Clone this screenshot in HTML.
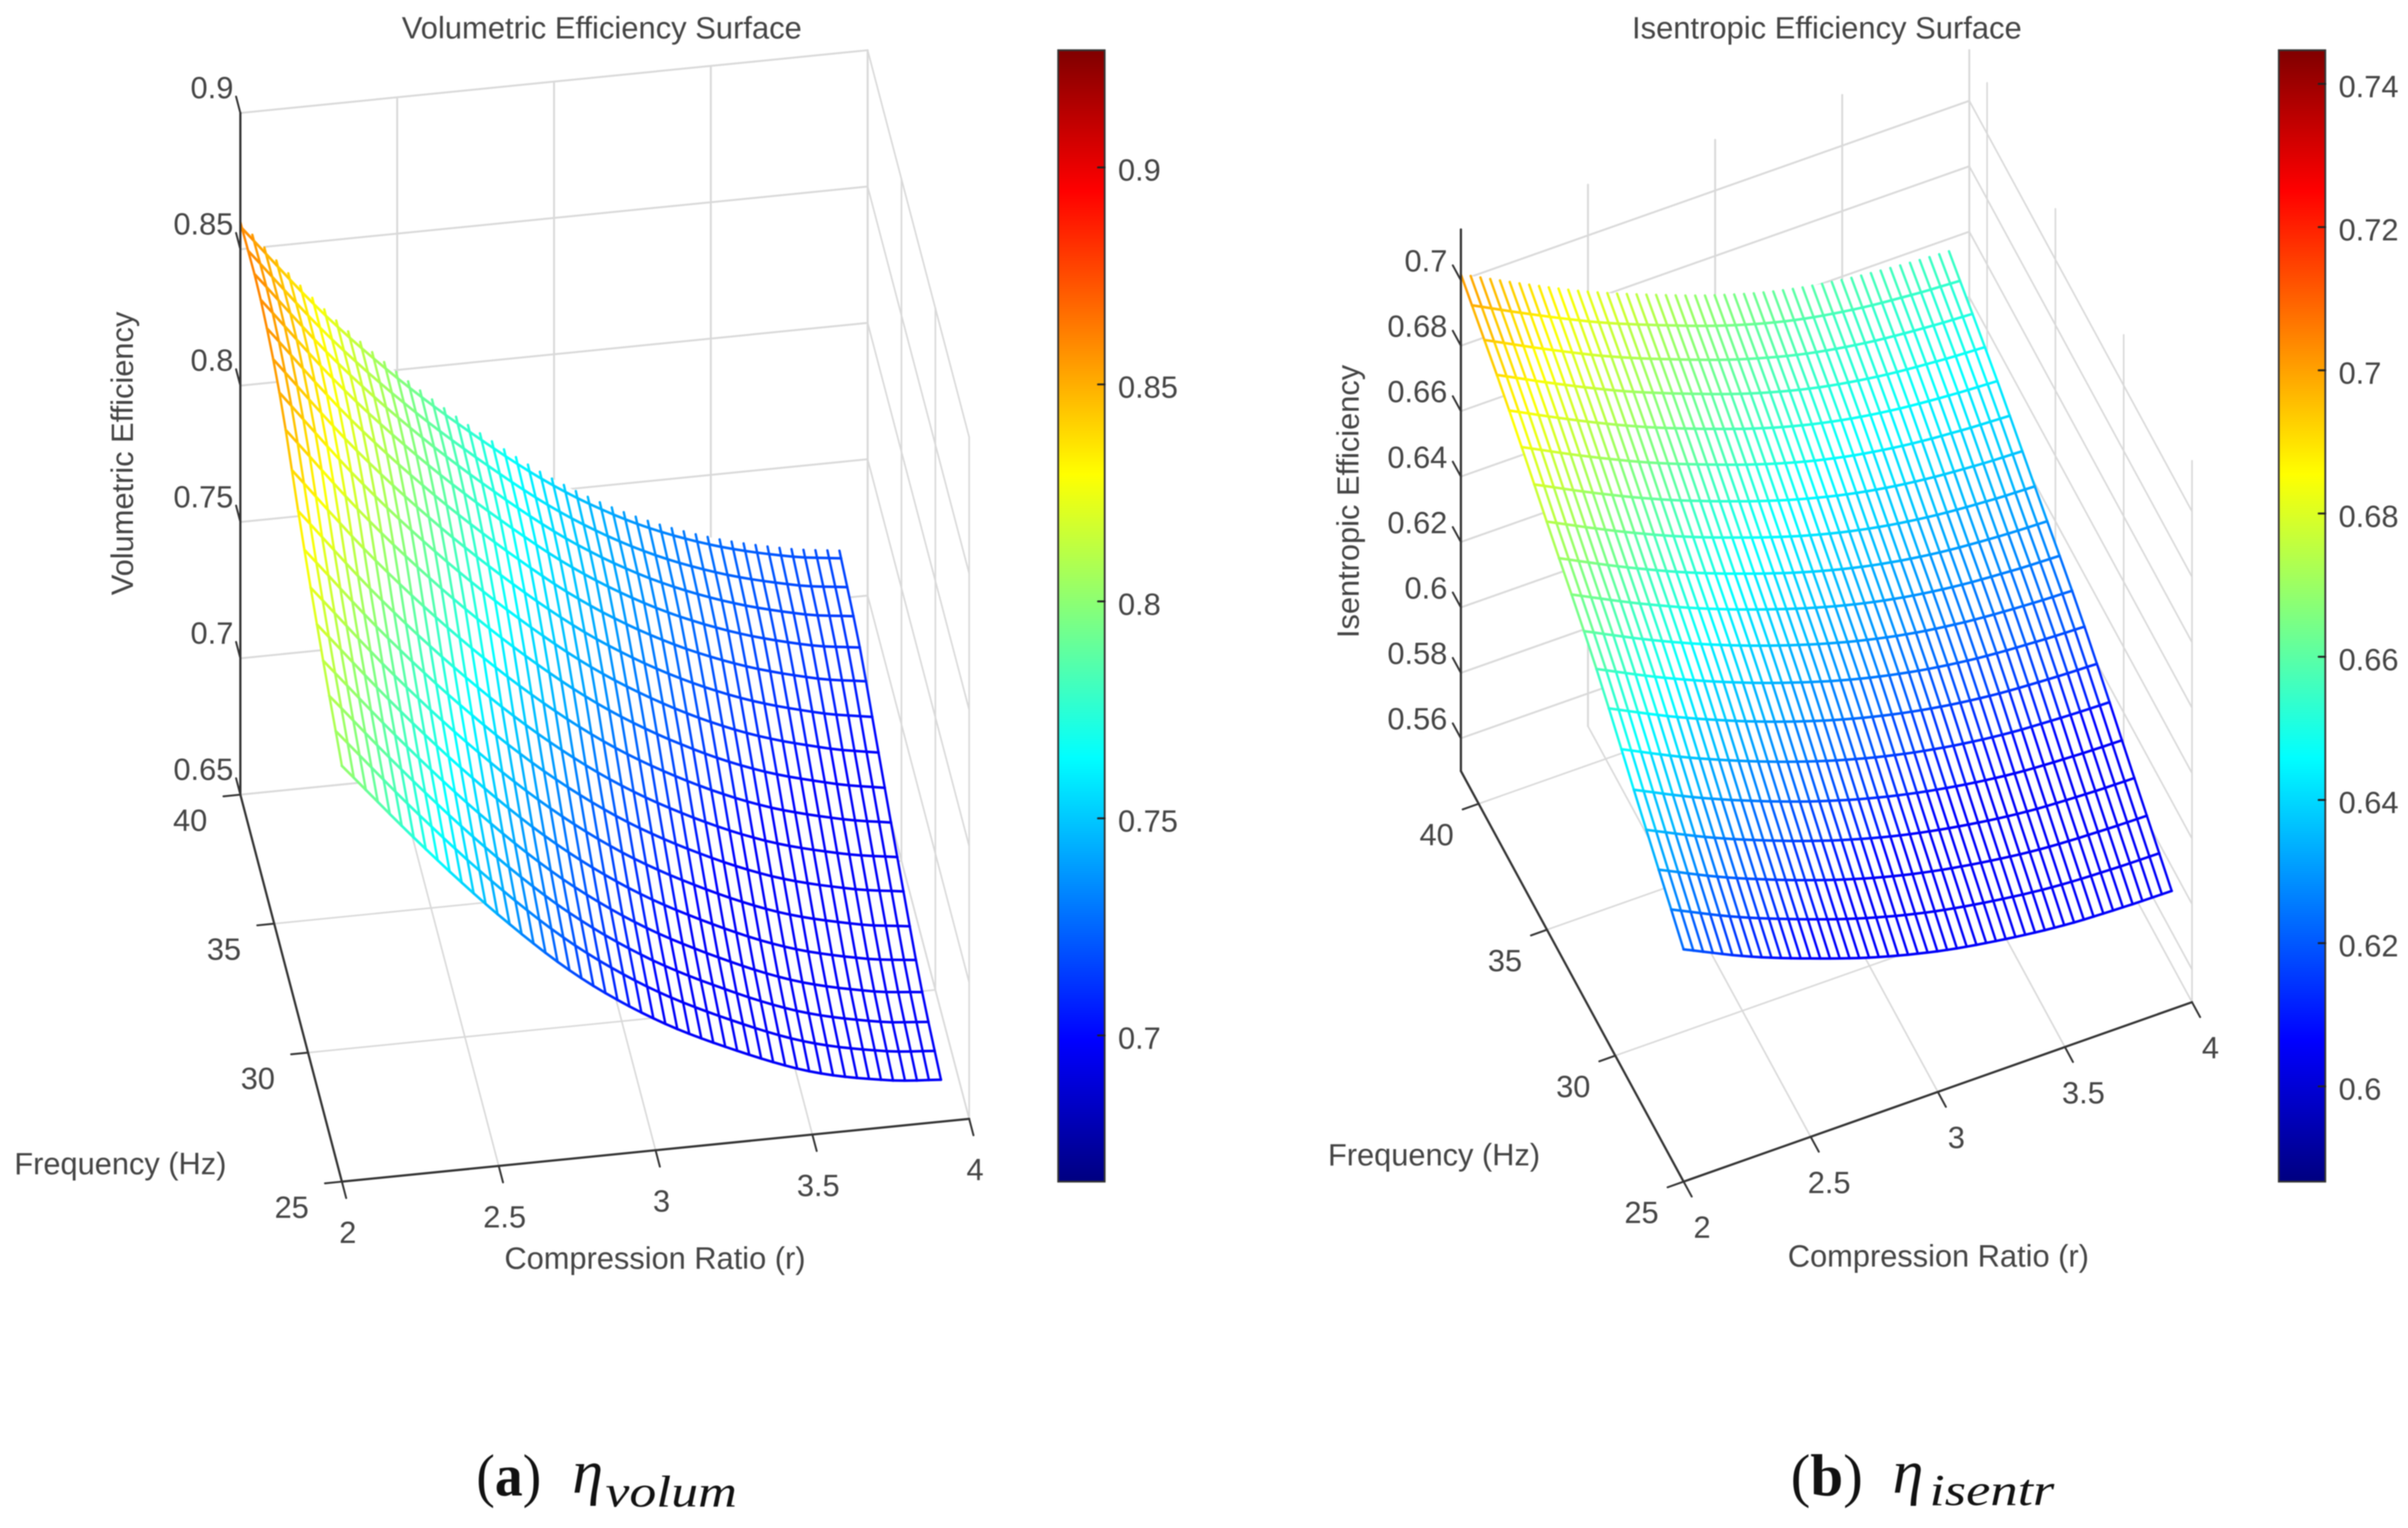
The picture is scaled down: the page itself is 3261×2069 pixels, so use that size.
<!DOCTYPE html>
<html lang="en">
<head>
<meta charset="utf-8">
<title>Volumetric and Isentropic Efficiency Surfaces</title>
<style>
html,body{margin:0;padding:0;background:#fff;width:3261px;height:2069px;overflow:hidden}
svg{display:block;filter:blur(.7px)}
text{font-family:"Liberation Sans",Arial,sans-serif;font-size:41.7px;fill:#444}
.cap{font-family:"Liberation Serif","DejaVu Serif",serif;fill:#111}
</style>
</head>
<body>
<svg id="figure" xmlns="http://www.w3.org/2000/svg" width="3261" height="2069" viewBox="0 0 3261 2069">
  <defs>
    <linearGradient id="jet-gradient" x1="0" y1="1" x2="0" y2="0">
      <stop offset="0" stop-color="#000080"/>
      <stop offset=".125" stop-color="#0000ff"/>
      <stop offset=".375" stop-color="#00ffff"/>
      <stop offset=".625" stop-color="#ffff00"/>
      <stop offset=".875" stop-color="#ff0000"/>
      <stop offset="1" stop-color="#800000"/>
    </linearGradient>
  </defs>
  <rect width="3261" height="2069" fill="#fff"/>
  <g id="chart-a">
    <text x="815" y="52" text-anchor="middle" style="font-size:41.9px">Volumetric Efficiency Surface</text>
    <text x="887" y="1718" text-anchor="middle">Compression Ratio (r)</text>
    <text x="163" y="1590" text-anchor="middle">Frequency (Hz)</text>
    <text transform="translate(180 614) rotate(-90)" text-anchor="middle">Volumetric Efficiency</text>
  </g>
  <g id="chart-b">
    <text x="2474" y="52" text-anchor="middle" style="font-size:41.9px">Isentropic Efficiency Surface</text>
    <text x="2625" y="1715" text-anchor="middle">Compression Ratio (r)</text>
    <text x="1942" y="1578" text-anchor="middle">Frequency (Hz)</text>
    <text transform="translate(1840 679) rotate(-90)" text-anchor="middle">Isentropic Efficiency</text>
  </g>
  <g>
    <text class="cap" x="645" y="2025" style="font-size:80px" textLength="88" lengthAdjust="spacingAndGlyphs">(<tspan font-weight="bold">a</tspan>)</text>
    <text class="cap" x="775" y="2021" style="font-size:84px;font-style:italic">η</text>
    <text class="cap" x="820" y="2040" style="font-size:60px;font-style:italic" textLength="178" lengthAdjust="spacingAndGlyphs">volum</text>
  </g>
  <g>
    <text class="cap" x="2425" y="2025" style="font-size:80px">(<tspan font-weight="bold">b</tspan>)</text>
    <text class="cap" x="2563" y="2021" style="font-size:84px;font-style:italic">η</text>
    <text class="cap" x="2613" y="2038" style="font-size:60px;font-style:italic" textLength="169" lengthAdjust="spacingAndGlyphs">isentr</text>
  </g>
</svg>
<script>
// ---- Values ----
const rTicks = [2, 2.5, 3, 3.5, 4];
const rTickLabels = ['2', '2.5', '3', '3.5', '4'];
const fTicks = [25, 30, 35, 40];
const fTickLabels = ['25', '30', '35', '40'];

// Volumetric efficiency surface: z read at these r / f stations
const volumetricRStations = [2, 2.25, 2.5, 2.75, 3, 3.25, 3.5, 3.75, 3.91];
const volumetricFStations = [25, 28, 31, 34, 37, 40];
const volumetricZAtF25 = [0.8025, 0.771, 0.742, 0.717, 0.698, 0.684, 0.673, 0.667, 0.6654];
const volumetricZAtF28 = [0.816, 0.7834, 0.7538, 0.7282, 0.708, 0.6929, 0.6811, 0.6742, 0.672];
const volumetricZAtF31 = [0.832, 0.7984, 0.7688, 0.7431, 0.7221, 0.7062, 0.6942, 0.6868, 0.684];
const volumetricZAtF34 = [0.851, 0.8165, 0.7866, 0.7606, 0.7384, 0.7213, 0.7086, 0.7004, 0.697];
const volumetricZAtF37 = [0.86, 0.8259, 0.7969, 0.7718, 0.7499, 0.7331, 0.7211, 0.7132, 0.7105];
const volumetricZAtF40 = [0.86, 0.827, 0.799, 0.775, 0.754, 0.738, 0.727, 0.72, 0.7175];
const volumetricMeshF = [25, 25.92, 26.85, 27.77, 28.69, 29.61, 30.54, 31.46, 32.38, 33.3, 34.23, 35.15, 36.07, 36.99, 37.92, 38.84, 39.76];
const volumetricZTicks = [0.65, 0.7, 0.75, 0.8, 0.85, 0.9];
const volumetricZTickLabels = ['0.65', '0.7', '0.75', '0.8', '0.85', '0.9'];
const volumetricBarTicks = [0.7, 0.75, 0.8, 0.85, 0.9];
const volumetricBarLabels = ['0.7', '0.75', '0.8', '0.85', '0.9'];

// Isentropic efficiency surface: z read at these r / f stations
const isentropicRStations = [2, 2.25, 2.5, 2.75, 3, 3.25, 3.5, 3.75, 3.92];
const isentropicFStations = [25, 28.2, 31.5, 34.7, 38, 41.3];
const isentropicZAtF25 = [0.621, 0.612, 0.6045, 0.598, 0.593, 0.5896, 0.5873, 0.5864, 0.5862];
const isentropicZAtF28 = [0.6392, 0.63, 0.6221, 0.6153, 0.6099, 0.606, 0.6034, 0.6023, 0.602];
const isentropicZAtF31 = [0.6582, 0.6488, 0.6405, 0.6334, 0.6275, 0.6231, 0.6203, 0.6189, 0.6184];
const isentropicZAtF35 = [0.6731, 0.6636, 0.655, 0.6477, 0.6414, 0.6366, 0.6335, 0.6319, 0.6314];
const isentropicZAtF38 = [0.6885, 0.6788, 0.6699, 0.6623, 0.6556, 0.6505, 0.6472, 0.6454, 0.6447];
const isentropicZAtF41 = [0.7018, 0.692, 0.6828, 0.675, 0.668, 0.6625, 0.659, 0.657, 0.6562];
const isentropicMeshF = [25, 25.91, 26.82, 27.73, 28.64, 29.55, 30.47, 31.38, 32.29, 33.2, 34.11, 35.02, 35.93, 36.85, 37.76, 38.67, 39.58, 40.49];
const isentropicZTicks = [0.56, 0.58, 0.6, 0.62, 0.64, 0.66, 0.68, 0.7];
const isentropicZTickLabels = ['0.56', '0.58', '0.6', '0.62', '0.64', '0.66', '0.68', '0.7'];
const isentropicBarTicks = [0.6, 0.62, 0.64, 0.66, 0.68, 0.7, 0.72, 0.74];
const isentropicBarLabels = ['0.6', '0.62', '0.64', '0.66', '0.68', '0.7', '0.72', '0.74'];

const meshColumnCount = 51;

// ---- Chart geometry (orthographic 3-D axes) ----
const volumetricChart = {
  root: 'chart-a', prefix: 'volumetric',
  rStations: volumetricRStations, fStations: volumetricFStations,
  zRows: [volumetricZAtF25, volumetricZAtF28, volumetricZAtF31, volumetricZAtF34, volumetricZAtF37, volumetricZAtF40],
  meshF: volumetricMeshF, zTicks: volumetricZTicks, zLabels: volumetricZTickLabels,
  barTicks: volumetricBarTicks, barLabels: volumetricBarLabels,
  rLim: [2, 4], fLim: [25, 40], zLim: [0.65, 0.9],
  origin: [463, 1600], rVec: [849.5, -85], fVec: [-137.5, -524], zPerUnit: 3692,
  rLabelOffset: [8, 83], fLabelOffset: [-68, 49], zLabelX: 316, zLabelDy: -20,
  bar: { x: 1433, w: 63, top: 68, bottom: 1600, min: 0.6663, max: 0.927 }
};
const isentropicChart = {
  root: 'chart-b', prefix: 'isentropic',
  rStations: isentropicRStations, fStations: isentropicFStations,
  zRows: [isentropicZAtF25, isentropicZAtF28, isentropicZAtF31, isentropicZAtF35, isentropicZAtF38, isentropicZAtF41],
  meshF: isentropicMeshF, zTicks: isentropicZTicks, zLabels: isentropicZTickLabels,
  barTicks: isentropicBarTicks, barLabels: isentropicBarLabels,
  rLim: [2, 4], fLim: [25, 41.3], zLim: [0.55, 0.7155],
  origin: [2280, 1600], rVec: [688.5, -243], fVec: [-301.6, -556], zPerUnit: 4430,
  rLabelOffset: [25, 76], fLabelOffset: [-57, 56], zLabelX: 1960, zLabelDy: -12,
  bar: { x: 3086, w: 63, top: 68, bottom: 1600, min: 0.5867, max: 0.7447 }
};

// ---- Axis functions ----
function project(c, r, f, z) {
  const u = (r - c.rLim[0]) / (c.rLim[1] - c.rLim[0]);
  const v = (f - c.fLim[0]) / (c.fLim[1] - c.fLim[0]);
  return [
    c.origin[0] + u * c.rVec[0] + v * c.fVec[0],
    c.origin[1] + u * c.rVec[1] + v * c.fVec[1] - (z - c.zLim[0]) * c.zPerUnit
  ];
}
function barY(c, v) {
  const b = c.bar;
  return b.bottom - (v - b.min) / (b.max - b.min) * (b.bottom - b.top);
}
function clamp01(v) { return Math.max(0, Math.min(1, v)); }
function jetColor(c, z) {
  const t = Math.max(0.118, (z - c.bar.min) / (c.bar.max - c.bar.min));
  const r = clamp01(1.5 - Math.abs(4 * t - 3));
  const g = clamp01(1.5 - Math.abs(4 * t - 2));
  const b = clamp01(1.5 - Math.abs(4 * t - 1));
  return 'rgb(' + Math.round(r * 255) + ',' + Math.round(g * 255) + ',' + Math.round(b * 255) + ')';
}
// Smooth curve through the read stations, used to draw the fine mesh
function smooth(xs, ys, x) {
  const n = xs.length;
  let i = 0;
  while (i < n - 2 && x > xs[i + 1]) i++;
  const h = xs[i + 1] - xs[i];
  const s = (x - xs[i]) / h;
  const slope = function (k) {
    if (k === 0) return (ys[1] - ys[0]) / (xs[1] - xs[0]);
    if (k === n - 1) return (ys[n - 1] - ys[n - 2]) / (xs[n - 1] - xs[n - 2]);
    return (ys[k + 1] - ys[k - 1]) / (xs[k + 1] - xs[k - 1]);
  };
  const a = 2 * s * s * s - 3 * s * s + 1;
  const b = s * s * s - 2 * s * s + s;
  const d = -2 * s * s * s + 3 * s * s;
  const e = s * s * s - s * s;
  return a * ys[i] + b * h * slope(i) + d * ys[i + 1] + e * h * slope(i + 1);
}
function surfaceZ(c, r, f) {
  const acrossF = c.zRows.map(function (row) { return smooth(c.rStations, row, r); });
  return smooth(c.fStations, acrossF, f);
}

const SVG_NS = 'http://www.w3.org/2000/svg';
function makeEl(parent, tag, attrs) {
  const el = document.createElementNS(SVG_NS, tag);
  Object.keys(attrs).forEach(function (k) { el.setAttribute(k, attrs[k]); });
  parent.appendChild(el);
  return el;
}
function makeLine(parent, a, b, stroke, width) {
  return makeEl(parent, 'line', {
    x1: a[0].toFixed(1), y1: a[1].toFixed(1), x2: b[0].toFixed(1), y2: b[1].toFixed(1),
    stroke: stroke, 'stroke-width': width, 'stroke-linecap': 'round'
  });
}

function drawGrid(c, parent) {
  const GRID = '#d9d9d9';
  const rMin = c.rLim[0], rMax = c.rLim[1], fMin = c.fLim[0], fMax = c.fLim[1], zMin = c.zLim[0], zMax = c.zLim[1];
  const g = makeEl(parent, 'g', {});
  
  
  c.zTicks.forEach(function (z) {
    const back = makeLine(g, project(c, rMin, fMax, z), project(c, rMax, fMax, z), GRID, 2.6);
    
    
    const side = makeLine(g, project(c, rMax, fMax, z), project(c, rMax, fMin, z), GRID, 2.2);
    
    
  });
  rTicks.forEach(function (r) {
    const wall = makeLine(g, project(c, r, fMax, zMin), project(c, r, fMax, zMax), GRID, 2.6);
    
    
    const floor = makeLine(g, project(c, r, fMin, zMin), project(c, r, fMax, zMin), GRID, 2.2);
    
    
  });
  fTicks.forEach(function (f) {
    const wall = makeLine(g, project(c, rMax, f, zMin), project(c, rMax, f, zMax), GRID, 2.2);
    
    
    const floor = makeLine(g, project(c, rMin, f, zMin), project(c, rMax, f, zMin), GRID, 2.2);
    
    
  });
}

function drawSurface(c, parent) {
  const rs = c.rStations, fs = c.fStations;
  const rLo = rs[0], rHi = rs[rs.length - 1], fLo = fs[0], fHi = fs[fs.length - 1];
  const rValues = [];
  for (let i = 0; i < meshColumnCount; i++) rValues.push(rLo + (rHi - rLo) * i / (meshColumnCount - 1));
  const fValues = c.meshF.concat([fHi]);
  const at = function (r, f) { return project(c, r, f, surfaceZ(c, r, f)); };

  // White faces hide the gridlines behind the surface
  const outline = [];
  rValues.forEach(function (r) { outline.push(at(r, fLo)); });
  fValues.forEach(function (f) { outline.push(at(rHi, f)); });
  rValues.slice().reverse().forEach(function (r) { outline.push(at(r, fHi)); });
  fValues.slice().reverse().forEach(function (f) { outline.push(at(rLo, f)); });
  const face = makeEl(parent, 'polygon', {
    points: outline.map(function (p) { return p[0].toFixed(1) + ',' + p[1].toFixed(1); }).join(' '),
    fill: '#fff'
  });
  
  

  const mesh = makeEl(parent, 'g', {});
  
  
  // Lines of constant r
  rValues.forEach(function (r) {
    for (let j = 0; j < fValues.length - 1; j++) {
      const f0 = fValues[j], f1 = fValues[j + 1];
      const seg = makeLine(mesh, at(r, f0), at(r, f1), jetColor(c, surfaceZ(c, r, (f0 + f1) / 2)), 3.2);
      
      
    }
  });
  // Lines of constant f
  c.meshF.forEach(function (f) {
    for (let i = 0; i < rValues.length - 1; i++) {
      const r0 = rValues[i], r1 = rValues[i + 1];
      const seg = makeLine(mesh, at(r0, f), at(r1, f), jetColor(c, surfaceZ(c, (r0 + r1) / 2, f)), 3.5);
      
      
    }
  });
}

function unit(v, len) {
  const m = Math.hypot(v[0], v[1]);
  return [v[0] / m * len, v[1] / m * len];
}

function drawAxes(c, parent) {
  const AXIS = '#333';
  const rMin = c.rLim[0], rMax = c.rLim[1], fMin = c.fLim[0], fMax = c.fLim[1], zMin = c.zLim[0], zMax = c.zLim[1];
  const g = makeEl(parent, 'g', {});
  
  

  const rAxis = makeLine(g, project(c, rMin, fMin, zMin), project(c, rMax, fMin, zMin), AXIS, 3);
  
  
  const fAxis = makeLine(g, project(c, rMin, fMin, zMin), project(c, rMin, fMax, zMin), AXIS, 3);
  
  
  const zAxis = makeLine(g, project(c, rMin, fMax, zMin), project(c, rMin, fMax, zMax), AXIS, 3);
  
  

  const rTickVec = unit([-c.fVec[0], -c.fVec[1]], 23);
  const fTickVec = unit([-c.rVec[0], -c.rVec[1]], 23);
  const zTickVec = unit(c.fVec, 23);

  rTicks.forEach(function (r, i) {
    const p = project(c, r, fMin, zMin);
    const tick = makeLine(g, p, [p[0] + rTickVec[0], p[1] + rTickVec[1]], AXIS, 2.6);
    
    
    const label = makeEl(g, 'text', { x: (p[0] + c.rLabelOffset[0]).toFixed(1), y: (p[1] + c.rLabelOffset[1]).toFixed(1), 'text-anchor': 'middle' });
    label.textContent = rTickLabels[i];
    
    
  });
  fTicks.forEach(function (f, i) {
    const p = project(c, rMin, f, zMin);
    const tick = makeLine(g, p, [p[0] + fTickVec[0], p[1] + fTickVec[1]], AXIS, 2.6);
    
    
    const label = makeEl(g, 'text', { x: (p[0] + c.fLabelOffset[0]).toFixed(1), y: (p[1] + c.fLabelOffset[1]).toFixed(1), 'text-anchor': 'middle' });
    label.textContent = fTickLabels[i];
    
    
  });
  c.zTicks.forEach(function (z, i) {
    const p = project(c, rMin, fMax, z);
    const tick = makeLine(g, p, [p[0] + zTickVec[0], p[1] + zTickVec[1]], AXIS, 2.6);
    
    
    const label = makeEl(g, 'text', { x: c.zLabelX, y: (p[1] + c.zLabelDy).toFixed(1), 'text-anchor': 'end' });
    label.textContent = c.zLabels[i];
    
    
  });
}

function drawColorbar(c, parent) {
  const b = c.bar;
  const g = makeEl(parent, 'g', {});
  
  
  const rect = makeEl(g, 'rect', {
    x: b.x, y: b.top, width: b.w, height: b.bottom - b.top,
    fill: 'url(#jet-gradient)', stroke: '#333', 'stroke-width': 2.4
  });
  
  
  c.barTicks.forEach(function (v, i) {
    const y = barY(c, v);
    const tick = makeLine(g, [b.x + b.w - 9, y], [b.x + b.w, y], '#222', 2.6);
    
    
    const label = makeEl(g, 'text', { x: b.x + b.w + 18, y: (y + 18).toFixed(1) });
    label.textContent = c.barLabels[i];
    
    
  });
}

[volumetricChart, isentropicChart].forEach(function (c) {
  const root = document.getElementById(c.root);
  drawGrid(c, root);
  drawSurface(c, root);
  drawAxes(c, root);
  drawColorbar(c, root);
});
</script>
</body>
</html>
